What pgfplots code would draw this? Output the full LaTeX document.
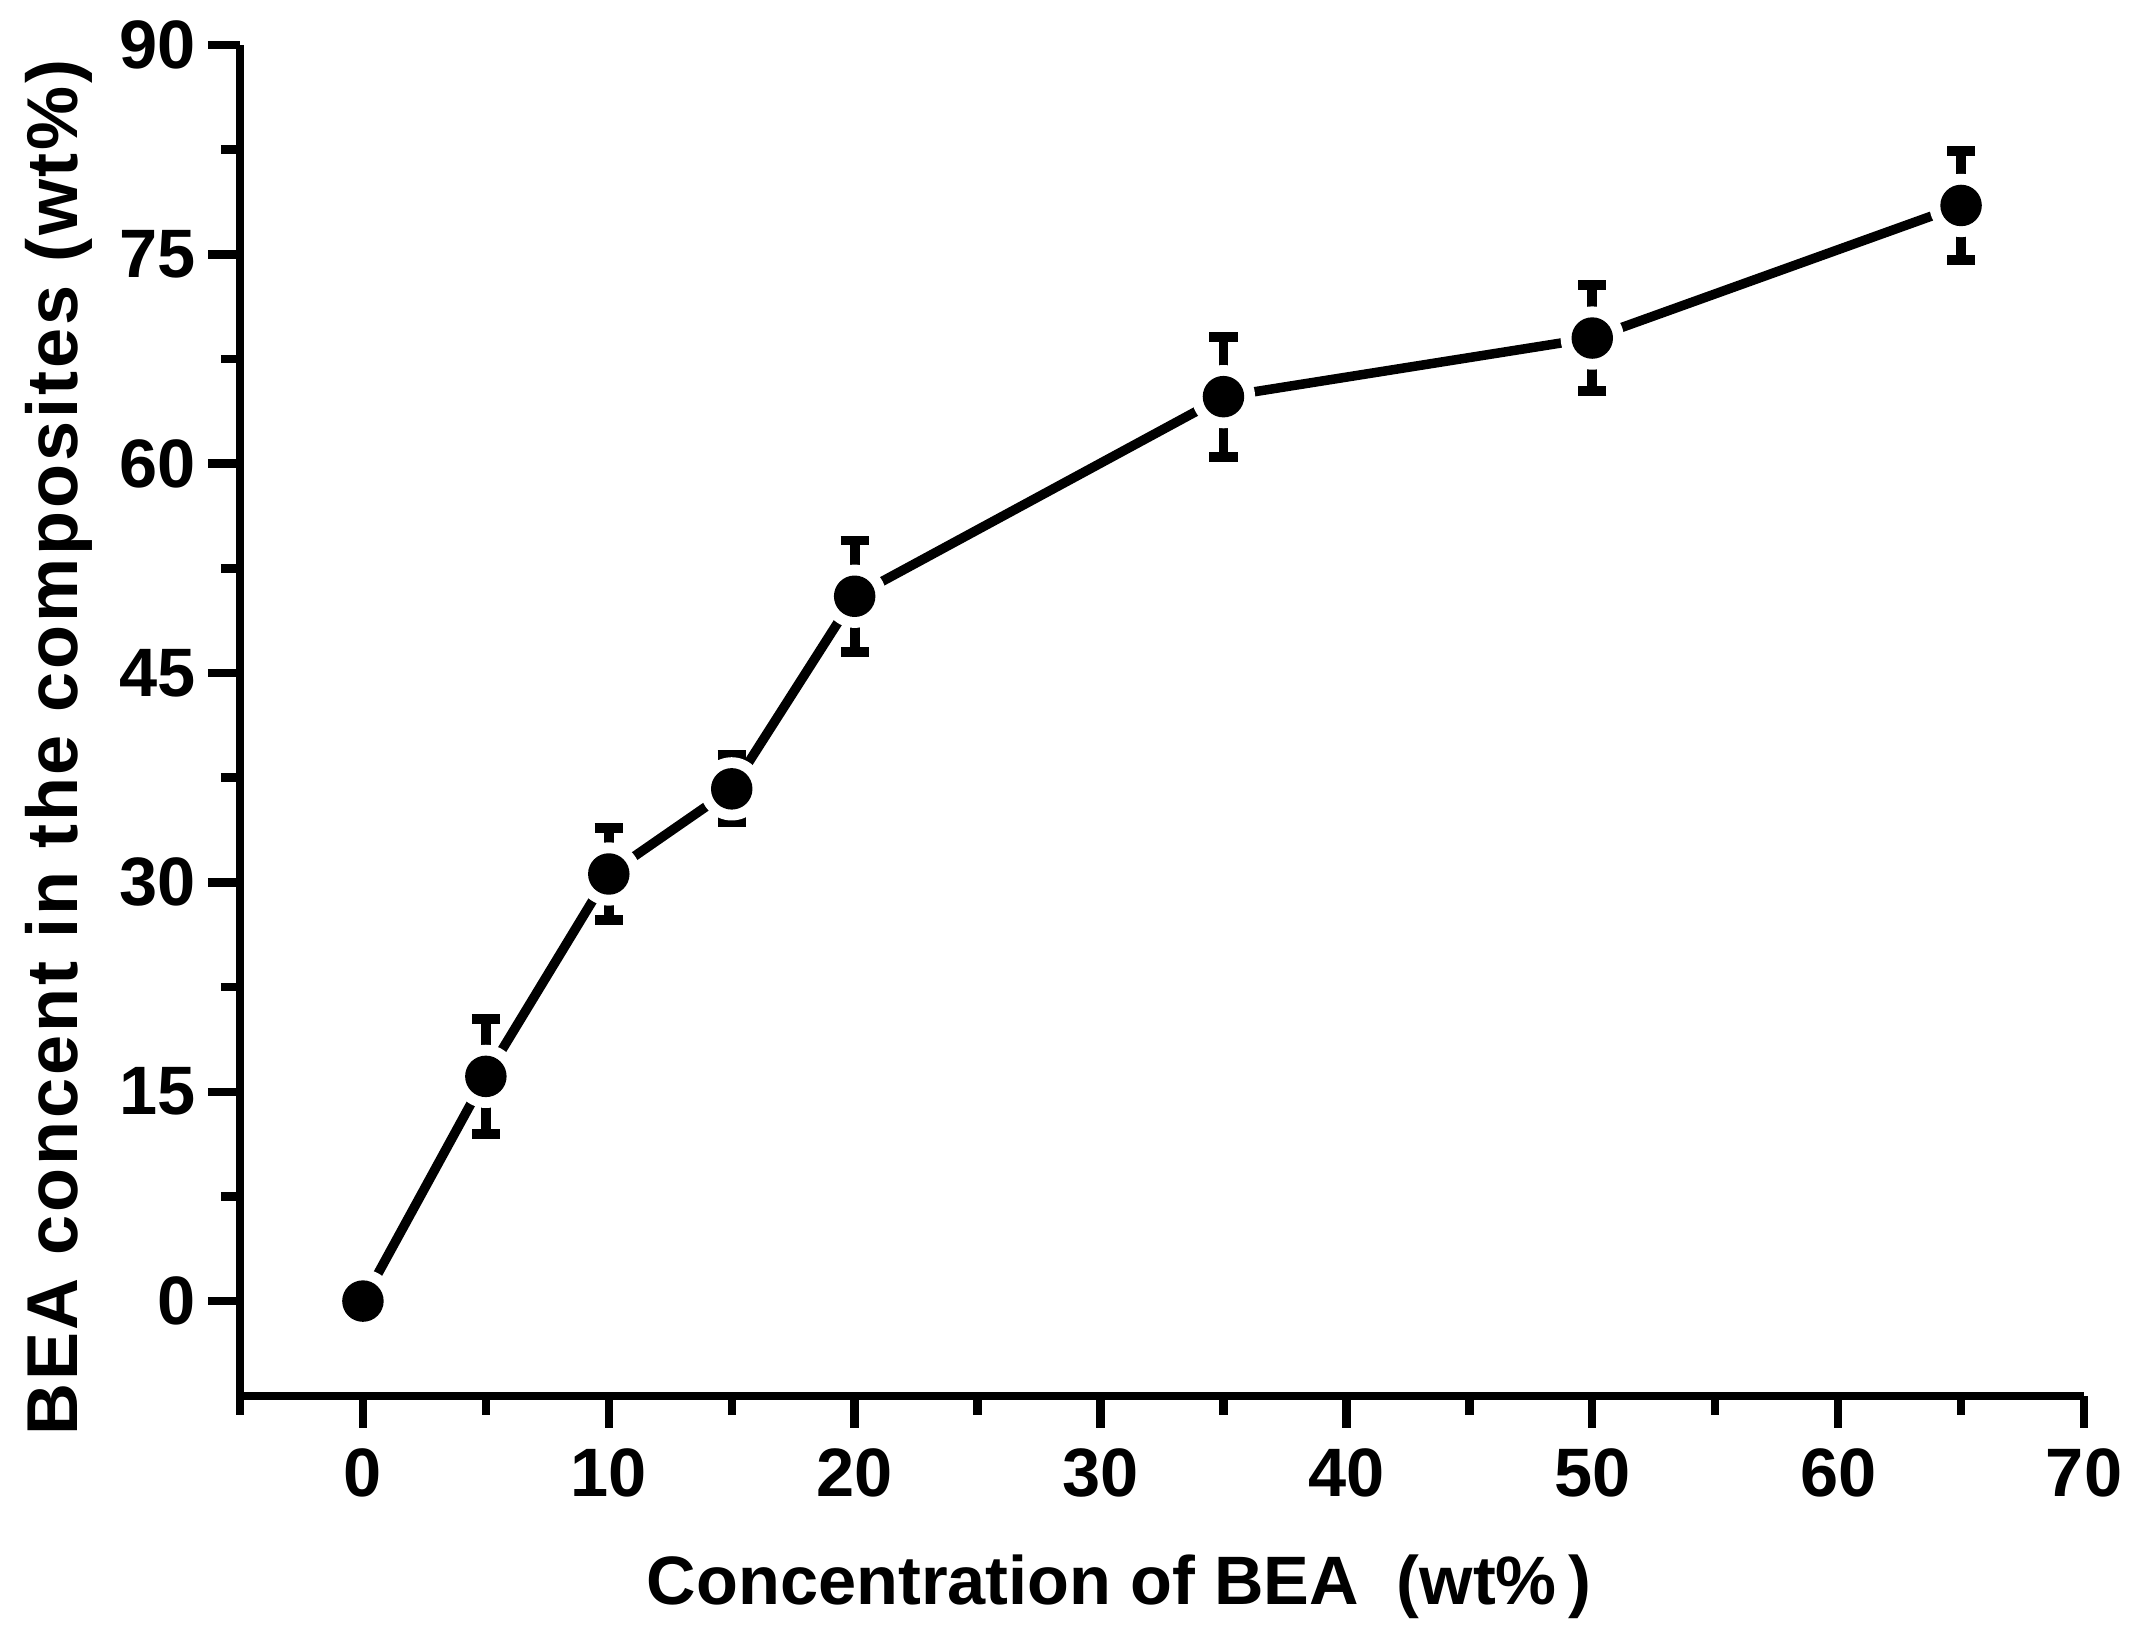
\documentclass[border=0pt]{standalone}
\usepackage{pgfplots}
\usepackage{pgfplotstable}
\pgfplotsset{compat=1.18}
\usepackage{fontspec}
\setmainfont{Liberation Sans}
\newfontfamily\ylabfont[LetterSpace=4]{Liberation Sans}

\pgfplotstableread{
x y e
0 0 0
5 16.1 4.1
10 30.6 3.3
15 36.7 2.4
20 50.5 4.0
35 64.8 4.3
50 69.0 3.8
65 78.5 3.9
}\datatab

\begin{document}
\begin{tikzpicture}
\begin{axis}[
  at={(0,0)}, anchor=south west,
  scale only axis, width=18.44cm, height=13.51cm,
  xmin=-5, xmax=70, ymin=-6.8, ymax=90,
  axis x line*=bottom, axis y line*=left,
  axis line style={line width=2.5pt, -, black},
  xtick={0,10,...,70}, ytick={0,15,...,90},
  minor xtick={-5,5,15,25,35,45,55,65},
  minor ytick={7.5,22.5,37.5,52.5,67.5,82.5,-7.5},
  tick align=outside,
  major tick length=0.32cm, minor tick length=0.19cm,
  tick style={black, line width=2.4pt},
  tick label style={font=\fontsize{19.5}{21}\selectfont\bfseries},
  xticklabel style={anchor=north, inner sep=0pt, yshift=-0.2cm},
  yticklabel style={anchor=east, inner sep=0pt, xshift=-0.12cm},
  /pgf/number format/assume math mode=true,
  xlabel={Concentration of BEA\ \ (wt\%\,)},
  xlabel style={at={(axis description cs:0.4767,-0.154)}, anchor=base,
    font=\fontsize{19.5}{22}\selectfont\bfseries},
  ylabel={BEA concent in the composites (wt\%)},
  ylabel style={at={(axis description cs:-0.0879,0.480)}, anchor=base,
    font=\ylabfont\fontsize{20.5}{23}\selectfont\bfseries},
  clip=false,
]
\addplot[black, line width=2.7pt, mark=none] table[x=x, y=y] {\datatab};
\addplot[only marks, mark=*, mark size=8.8pt, mark options={draw=white, fill=white}] table[x=x, y=y] {\datatab};
\addplot[only marks, black, mark=*, mark size=5.4pt, mark options={line width=1pt, draw=black, fill=black},
  error bars/.cd, y dir=both, y explicit,
  error bar style={line width=2.8pt, black},
  error mark options={rotate=90, mark size=4pt, line width=2.8pt, black}]
  table[x=x, y=y, y error=e] {\datatab};
\end{axis}
\pgfresetboundingbox
\path (-2.40cm,-2.33cm) rectangle (18.93cm,13.96cm);
\end{tikzpicture}
\end{document}
